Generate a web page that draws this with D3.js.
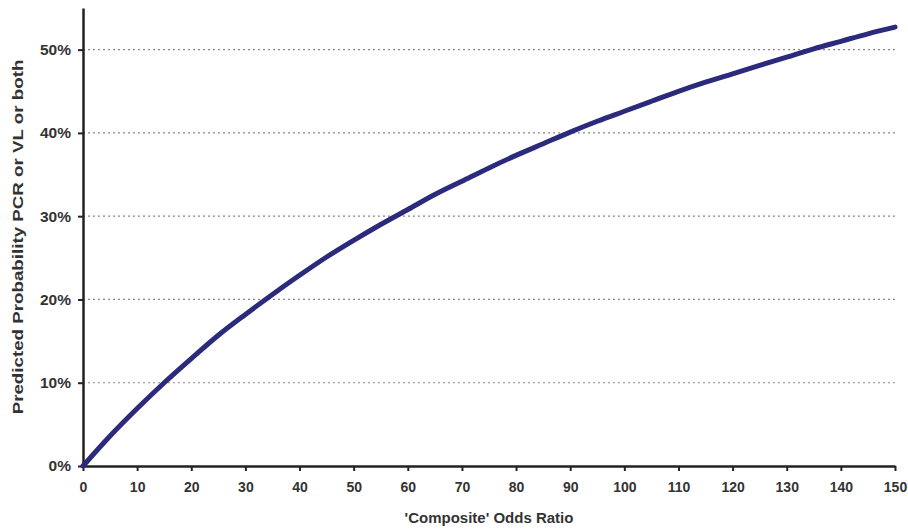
<!DOCTYPE html>
<html><head><meta charset="utf-8">
<script src="https://cdn.jsdelivr.net/npm/d3@7"></script>
<style>body{margin:0;background:#fff;} svg{display:block;font-family:"Liberation Sans",Arial,sans-serif;}</style>
</head><body>
<svg id="chart" width="908" height="530"></svg>
<script>
const oddsRatio = [0,5,10,15,20,25,30,35,40,45,50,55,60,65,70,75,80,85,90,95,100,105,110,115,120,125,130,135,140,145,150];
const probability = [0,3.6,6.9,10.0,12.9,15.7,18.2,20.6,22.9,25.1,27.1,29.0,30.8,32.6,34.2,35.8,37.3,38.7,40.1,41.4,42.6,43.8,45.0,46.1,47.1,48.1,49.1,50.1,51.0,51.9,52.7];
const xTicks = [0,10,20,30,40,50,60,70,80,90,100,110,120,130,140,150];
const yTicks = [0,10,20,30,40,50];
const xTitle = "'Composite' Odds Ratio";
const yTitle = "Predicted Probability PCR or VL or both";

const svg = d3.select("#chart");
const x = d3.scaleLinear().domain([0,150]).range([83,895]);
const y = d3.scaleLinear().domain([0,55]).range([466,8]);

// gridlines
svg.append("g").selectAll("line").data(yTicks.filter(d=>d>0)).join("line")
  .attr("x1",x(0)).attr("x2",x(150)).attr("y1",d=>y(d)).attr("y2",d=>y(d))
  .attr("stroke","#888").attr("stroke-width",1.2).attr("stroke-dasharray","2,3");

const tickColor = "#222";
const xAxis = svg.append("g").attr("transform",`translate(0,${y(0)})`)
  .call(d3.axisBottom(x).tickValues(xTicks).tickSize(5).tickPadding(11).tickSizeOuter(0));
const yAxis = svg.append("g").attr("transform",`translate(${x(0)},0)`)
  .call(d3.axisLeft(y).tickValues(yTicks).tickSize(5).tickPadding(7).tickFormat(d=>d+"%").tickSizeOuter(0));
[xAxis,yAxis].forEach(g=>{
  g.select(".domain").attr("stroke",tickColor).attr("stroke-width",2.5);
  g.selectAll(".tick line").attr("stroke",tickColor).attr("stroke-width",2);
  g.selectAll("text").attr("fill","#333").attr("font-weight","bold")
    .attr("font-family","'Liberation Sans',Arial,sans-serif");
});
xAxis.selectAll("text").attr("font-size",14);
yAxis.selectAll("text").attr("font-size",15.5);

// curve
svg.append("path").datum(oddsRatio.map((d,i)=>[d,probability[i]]))
  .attr("fill","none").attr("stroke","#2b2a7c").attr("stroke-width",5).attr("stroke-linecap","round")
  .attr("d",d3.line().x(d=>x(d[0])).y(d=>y(d[1])).curve(d3.curveMonotoneX));

// titles
svg.append("text").attr("x",(x(0)+x(150))/2).attr("y",523).attr("text-anchor","middle")
  .attr("font-size",15).attr("font-weight","bold").attr("fill","#333").text(xTitle);
svg.append("text").attr("transform",`translate(23,${y(27.5)}) rotate(-90) scale(1.25,1)`).attr("text-anchor","middle")
  .attr("font-size",15).attr("font-weight","bold").attr("fill","#333").text(yTitle);
</script>
</body></html>
